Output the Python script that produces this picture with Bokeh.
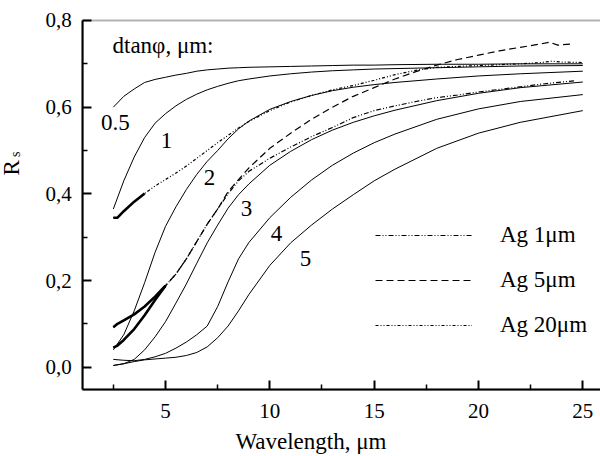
import numpy as np
from bokeh.plotting import figure
from bokeh.models import (Range1d, FixedTicker, CustomJSTickFormatter, Label, BoxAnnotation,
                          Legend, LegendItem, LinearAxis)
from bokeh.core.properties import value
from bokeh.embed import file_html
from bokeh.resources import INLINE

FONT = "Liberation Serif"

# ---------------- data ----------------
wavelength = [2.5, 3, 3.5, 4, 4.5, 5, 5.5, 6, 6.5, 7, 7.5, 8, 8.5, 9, 10, 11, 12, 13,
              14, 15, 16, 18, 20, 22, 25]
rs_d05 = [0.600, 0.625, 0.642, 0.657, 0.664, 0.669, 0.674, 0.678, 0.683, 0.686, 0.688,
          0.690, 0.691, 0.692, 0.693, 0.694, 0.695, 0.696, 0.697, 0.697, 0.698, 0.699,
          0.699, 0.700, 0.700]
rs_d1 = [0.365, 0.430, 0.485, 0.530, 0.563, 0.585, 0.603, 0.618, 0.630, 0.640, 0.648,
         0.655, 0.661, 0.665, 0.672, 0.677, 0.681, 0.684, 0.686, 0.688, 0.689, 0.691,
         0.693, 0.695, 0.696]
rs_d2 = [0.040, 0.075, 0.130, 0.195, 0.265, 0.325, 0.370, 0.410, 0.445, 0.475, 0.500,
         0.527, 0.550, 0.568, 0.595, 0.613, 0.627, 0.638, 0.646, 0.652, 0.657, 0.665,
         0.672, 0.677, 0.683]
rs_d3 = [0.004, 0.008, 0.018, 0.040, 0.070, 0.105, 0.148, 0.192, 0.240, 0.287, 0.328,
         0.367, 0.398, 0.423, 0.466, 0.498, 0.525, 0.547, 0.565, 0.580, 0.593, 0.615,
         0.632, 0.645, 0.658]
rs_d4 = [0.018, 0.016, 0.015, 0.018, 0.024, 0.032, 0.044, 0.058, 0.075, 0.095, 0.140,
         0.197, 0.250, 0.288, 0.345, 0.392, 0.432, 0.466, 0.494, 0.518, 0.538, 0.572,
         0.596, 0.613, 0.629]
rs_d5 = [0.004, 0.008, 0.013, 0.017, 0.019, 0.021, 0.023, 0.027, 0.034, 0.047, 0.068,
         0.095, 0.130, 0.168, 0.235, 0.287, 0.328, 0.365, 0.398, 0.430, 0.457, 0.505,
         0.540, 0.565, 0.592]

# experimental
ag1_wl = [2.5, 2.7, 3, 3.5, 4, 4.5, 5, 5.5, 6, 6.5, 7, 7.5, 8, 8.5, 9, 10, 11, 12, 13, 14,
          15, 16, 17, 18, 19, 20, 21, 22, 23, 24, 24.6]
ag1_rs = [0.092, 0.100, 0.108, 0.122, 0.140, 0.163, 0.188, 0.215, 0.250, 0.290, 0.330,
          0.365, 0.400, 0.430, 0.452, 0.482, 0.508, 0.532, 0.553, 0.576, 0.592, 0.603,
          0.613, 0.622, 0.628, 0.635, 0.641, 0.647, 0.653, 0.658, 0.661]
ag5_wl = [2.5, 2.7, 3, 3.5, 4, 4.5, 5, 5.5, 6, 6.5, 7, 7.5, 8, 8.5, 9, 10, 11, 12, 13, 14,
          15, 16, 17, 18, 19, 20, 21, 22, 23, 23.4, 23.8, 24.5]
ag5_rs = [0.045, 0.050, 0.063, 0.088, 0.120, 0.155, 0.188, 0.215, 0.250, 0.290, 0.330,
          0.365, 0.405, 0.433, 0.460, 0.505, 0.540, 0.572, 0.600, 0.625, 0.645, 0.665,
          0.682, 0.697, 0.710, 0.720, 0.730, 0.738, 0.746, 0.750, 0.743, 0.746]
ag20_wl = [2.5, 2.7, 3, 3.5, 4, 4.5, 5, 5.5, 6, 6.5, 7, 7.5, 8, 8.5, 9, 10, 11, 12, 13, 14,
           15, 16, 17, 18, 19, 20, 21, 22, 23, 23.5, 24, 25]
ag20_rs = [0.345, 0.345, 0.360, 0.382, 0.401, 0.418, 0.433, 0.448, 0.464, 0.482, 0.500,
           0.518, 0.535, 0.552, 0.567, 0.592, 0.612, 0.627, 0.640, 0.650, 0.662, 0.675,
           0.685, 0.692, 0.694, 0.696, 0.698, 0.700, 0.703, 0.706, 0.704, 0.703]
legend_names = ["Ag 1\u03bcm", "Ag 5\u03bcm", "Ag 20\u03bcm"]
dense_until = [5.0, 5.0, 4.0]   # dense (thick-looking) part of each measured curve

# axes
x_lo, x_hi = 1.036, 25.848
y_lo, y_hi = -0.0521, 0.8
x_ticks = [5, 10, 15, 20, 25]
x_minor = [2.5, 7.5, 12.5, 17.5, 22.5]
y_ticks = [0.0, 0.2, 0.4, 0.6, 0.8]
y_minor = [0.1, 0.3, 0.5, 0.7]

# curve labels
curve_label_text = ["0.5", "1", "2", "3", "4", "5"]
curve_label_x = [2.6, 5.05, 7.11, 8.88, 10.32, 11.71]
curve_label_y = [0.565, 0.523, 0.438, 0.366, 0.309, 0.251]

# ---------------- figure ----------------
p = figure(width=600, height=456, x_range=Range1d(-2.908, 25.848),
           y_range=Range1d(-0.2060, 0.8461), output_backend="svg", toolbar_location=None,
           x_axis_location=None, y_axis_location=None,
           min_border_left=0, min_border_right=0, min_border_top=0, min_border_bottom=0)
p.xgrid.visible = False
p.ygrid.visible = False
p.outline_line_color = None
p.background_fill_color = "white"
p.border_fill_color = "white"

xaxis = LinearAxis(fixed_location=y_lo, bounds=(x_lo, x_hi))
yaxis = LinearAxis(fixed_location=x_lo, bounds=(y_lo, y_hi))
p.add_layout(xaxis, "below")
p.add_layout(yaxis, "left")
for ax in (xaxis, yaxis):
    ax.axis_line_width = 2
    ax.axis_line_color = "black"
    ax.major_tick_in = 9
    ax.major_tick_out = 0
    ax.minor_tick_in = 5
    ax.minor_tick_out = 0
    ax.major_tick_line_width = 2
    ax.minor_tick_line_width = 1.5
    ax.major_tick_line_color = "black"
    ax.minor_tick_line_color = "black"
    ax.major_label_text_font = FONT
    ax.major_label_text_font_size = "21px"
    ax.major_label_text_color = "black"
xaxis.ticker = FixedTicker(ticks=x_ticks, minor_ticks=x_minor)
yaxis.ticker = FixedTicker(ticks=y_ticks, minor_ticks=y_minor)
yaxis.formatter = CustomJSTickFormatter(code="return tick.toFixed(1).replace('.', ',');")
xaxis.major_label_standoff = 14
yaxis.major_label_standoff = 11

# frame box (right side lies outside the picture)
p.add_layout(BoxAnnotation(left=x_lo, right=x_hi + 1, bottom=y_lo, top=y_hi,
                           fill_color=None, line_color="black", line_width=2))

# theory curves
for ys in (rs_d05, rs_d1, rs_d2, rs_d3, rs_d4, rs_d5):
    p.line(wavelength, ys, line_color="black", line_width=1)

# measured curves
exp_sets = [(ag1_wl, ag1_rs, "5 2 1 2 1 2"), (ag5_wl, ag5_rs, "7 4"),
            (ag20_wl, ag20_rs, "3 2 1 2 1 2")]
items = []
for (xs, ys, dash), name, cut in zip(exp_sets, legend_names, dense_until):
    r = p.line(xs, ys, line_color="black", line_width=1.2, line_dash=dash)
    xd = [x for x in xs if x <= cut]
    yd = ys[:len(xd)]
    p.line(xd, yd, line_color="black", line_width=2.6)
    items.append(LegendItem(label=name, renderers=[r]))

legend = Legend(items=items, location=(375, 118), glyph_width=97, glyph_height=26,
                label_height=26, spacing=19, label_standoff=28, padding=0, margin=0,
                border_line_color=None, background_fill_alpha=0,
                label_text_font=FONT, label_text_font_size="23px",
                label_text_color="black")
p.add_layout(legend)

# text in plot
p.text(curve_label_x, curve_label_y, text=curve_label_text, text_font=value(FONT),
       text_font_size="23px", text_align="center", text_baseline="middle",
       text_color="black")
p.add_layout(Label(x=2.46, y=0.742, text="dtan\u03c6, \u03bcm:", text_font=FONT,
                   text_font_size="23px", text_align="left", text_baseline="middle",
                   text_color="black"))

# axis titles
p.add_layout(Label(x=11.97, y=-0.1725, text="Wavelength, \u03bcm", text_font=FONT,
                   text_font_size="23px", text_align="center",
                   text_baseline="alphabetic", text_color="black"))
p.add_layout(Label(x=-2.381, y=0.4425, text="R", angle=np.pi / 2, text_font=FONT,
                   text_font_size="23px", text_align="left",
                   text_baseline="alphabetic", text_color="black"))
p.add_layout(Label(x=-2.166, y=0.4850, text="s", angle=np.pi / 2, text_font=FONT,
                   text_font_size="14px", text_align="left",
                   text_baseline="alphabetic", text_color="black"))

open("out.html", "w").write(file_html(p, INLINE))
